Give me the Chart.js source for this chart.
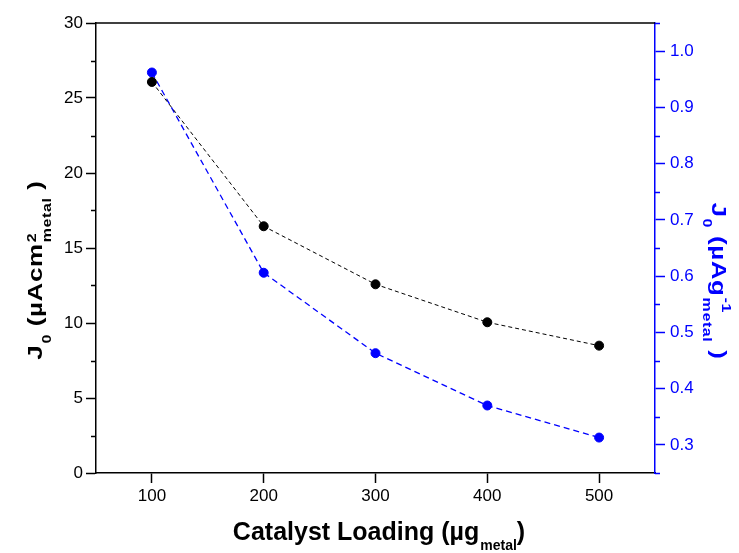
<!DOCTYPE html>
<html>
<head>
<meta charset="utf-8">
<script src="https://cdn.jsdelivr.net/npm/chart.js@4/dist/chart.umd.min.js"></script>
<style>
  html, body { margin: 0; padding: 0; background: #fff; }
  #wrap { width: 739px; height: 553px; }
</style>
</head>
<body>
<div id="wrap"><canvas id="c" width="739" height="553"></canvas></div>
<script>
// ---- data ----
const loadings = [100, 200, 300, 400, 500];
const j0Area = [26.07, 16.45, 12.58, 10.05, 8.49];
const j0Mass = [0.962, 0.606, 0.463, 0.370, 0.313];

// ---- tick labels ----
const xTicks = [100, 200, 300, 400, 500];
const yTicks = [0, 5, 10, 15, 20, 25, 30];
const y2Ticks = [0.3, 0.4, 0.5, 0.6, 0.7, 0.8, 0.9, 1.0];
const yMinorTicks = [2.5, 7.5, 12.5, 17.5, 22.5, 27.5];
const y2MinorTicks = [0.25, 0.35, 0.45, 0.55, 0.65, 0.75, 0.85, 0.95, 1.05];

// ---- titles ----
const xTitle = [{t: 'Catalyst Loading (µg'}, {sub: 'metal'}, {t: ')'}];
const yTitle = [{t: 'J'}, {sub: '0'}, {t: ' (µAcm'}, {sup: '2', sub: 'metal'}, {t: ' )'}];
const y2Title = [{t: 'J'}, {sub: '0'}, {t: ' (µAg'}, {sup: '-1', sub: 'metal'}, {t: ' )'}];

const BLUE = '#0000ff';
const FONT = '"Liberation Sans", Arial, sans-serif';

function drawRich(ctx, segs, cx, cy, rot, size, subSize, color, sy, subOff, supOff, spacing) {
  const main = 'bold ' + size + 'px ' + FONT;
  const small = 'bold ' + subSize + 'px ' + FONT;
  ctx.save();
  if ('letterSpacing' in ctx) ctx.letterSpacing = spacing + 'px';
  const widths = segs.map(s => {
    if (s.t !== undefined) { ctx.font = main; return ctx.measureText(s.t).width; }
    ctx.font = small;
    const a = s.sup ? ctx.measureText(s.sup).width : 0;
    const b = s.sub ? ctx.measureText(s.sub).width : 0;
    return Math.max(a, b) + 1;
  });
  const total = widths.reduce((a, b) => a + b, 0);
  ctx.translate(cx, cy);
  ctx.rotate(rot);
  ctx.scale(1, sy);
  ctx.fillStyle = color;
  ctx.textBaseline = 'alphabetic';
  ctx.textAlign = 'left';
  let x = -total / 2;
  segs.forEach((s, i) => {
    if (s.t !== undefined) {
      ctx.font = main; ctx.fillText(s.t, x, 0);
    } else {
      ctx.font = small;
      if (s.sup) ctx.fillText(s.sup, x + 1, supOff);
      if (s.sub) ctx.fillText(s.sub, x + 1, subOff);
    }
    x += widths[i];
  });
  ctx.restore();
}

const decor = {
  id: 'decor',
  afterDraw(chart) {
    const ctx = chart.ctx;
    const a = chart.chartArea;
    const y = chart.scales.y, y2 = chart.scales.y2;
    ctx.save();
    // top frame line
    ctx.strokeStyle = '#000';
    ctx.lineWidth = 1.5;
    ctx.beginPath();
    ctx.moveTo(a.left, a.top);
    ctx.lineTo(a.right, a.top);
    ctx.stroke();
    // minor ticks left
    ctx.beginPath();
    yMinorTicks.forEach(v => {
      const py = Math.round(y.getPixelForValue(v)) + 0.5;
      ctx.moveTo(a.left, py); ctx.lineTo(a.left - 5, py);
    });
    ctx.stroke();
    // minor ticks right
    ctx.strokeStyle = BLUE;
    ctx.beginPath();
    y2MinorTicks.forEach(v => {
      const py = Math.round(y2.getPixelForValue(v)) + 0.5;
      ctx.moveTo(a.right, py); ctx.lineTo(a.right + 5, py);
    });
    ctx.stroke();
    ctx.restore();
    // axis titles
    drawRich(ctx, xTitle, 379, 540, 0, 25, 14, '#000', 1, 10, -9, 0);
    drawRich(ctx, yTitle, 42, 270, -Math.PI / 2, 26, 16, '#000', 0.8, 11, -7, 0.6);
    drawRich(ctx, y2Title, 712, 281, Math.PI / 2, 26, 16, BLUE, 0.8, 11, -13, 0.6);
  }
};

function setTicks(list) {
  return function (scale) { scale.ticks = list.map(v => ({value: v})); };
}

new Chart(document.getElementById('c'), {
  type: 'line',
  data: {
    datasets: [
      {
        label: 'J0 area',
        data: loadings.map((x, i) => ({x: x, y: j0Area[i]})),
        yAxisID: 'y',
        borderColor: '#000',
        backgroundColor: '#000',
        borderWidth: 1,
        borderDash: [4, 3],
        pointRadius: 4.5,
        pointBorderWidth: 1,
        pointBorderColor: '#000',
        pointBackgroundColor: '#000',
        tension: 0
      },
      {
        label: 'J0 mass',
        data: loadings.map((x, i) => ({x: x, y: j0Mass[i]})),
        yAxisID: 'y2',
        borderColor: BLUE,
        backgroundColor: BLUE,
        borderWidth: 1.3,
        borderDash: [6, 4],
        pointRadius: 4.5,
        pointBorderWidth: 1,
        pointBorderColor: BLUE,
        pointBackgroundColor: BLUE,
        tension: 0
      }
    ]
  },
  options: {
    responsive: false,
    animation: false,
    layout: { padding: { top: 23, left: 0, right: 0, bottom: 0 } },
    plugins: { legend: { display: false }, tooltip: { enabled: false } },
    scales: {
      x: {
        type: 'linear',
        position: 'bottom',
        min: 50, max: 550,
        afterBuildTicks: setTicks(xTicks),
        afterFit(s) { s.height = 80; },
        grid: { display: true, drawOnChartArea: false, drawTicks: true, tickLength: 10, tickColor: '#000', tickWidth: 1.5 },
        border: { display: true, color: '#000', width: 1.5 },
        ticks: { color: '#000', font: { family: FONT, size: 17 }, padding: 3, maxRotation: 0, autoSkip: false },
        title: { display: false }
      },
      y: {
        type: 'linear',
        position: 'left',
        min: 0, max: 30,
        afterBuildTicks: setTicks(yTicks),
        afterFit(s) { s.width = 96; },
        grid: { display: true, drawOnChartArea: false, drawTicks: true, tickLength: 10, tickColor: '#000', tickWidth: 1.5 },
        border: { display: true, color: '#000', width: 1.5 },
        ticks: { color: '#000', font: { family: FONT, size: 17 }, padding: 3, autoSkip: false },
        title: { display: false }
      },
      y2: {
        type: 'linear',
        position: 'right',
        min: 0.25, max: 1.05,
        afterBuildTicks: setTicks(y2Ticks),
        afterFit(s) { s.width = 84; },
        grid: { display: true, drawOnChartArea: false, drawTicks: true, tickLength: 10, tickColor: BLUE, tickWidth: 1.5 },
        border: { display: true, color: BLUE, width: 1.5 },
        ticks: { color: BLUE, font: { family: FONT, size: 17 }, padding: 5, autoSkip: false,
                 callback: v => Number(v).toFixed(1) },
        title: { display: false }
      }
    }
  },
  plugins: [decor]
});
</script>
</body>
</html>
